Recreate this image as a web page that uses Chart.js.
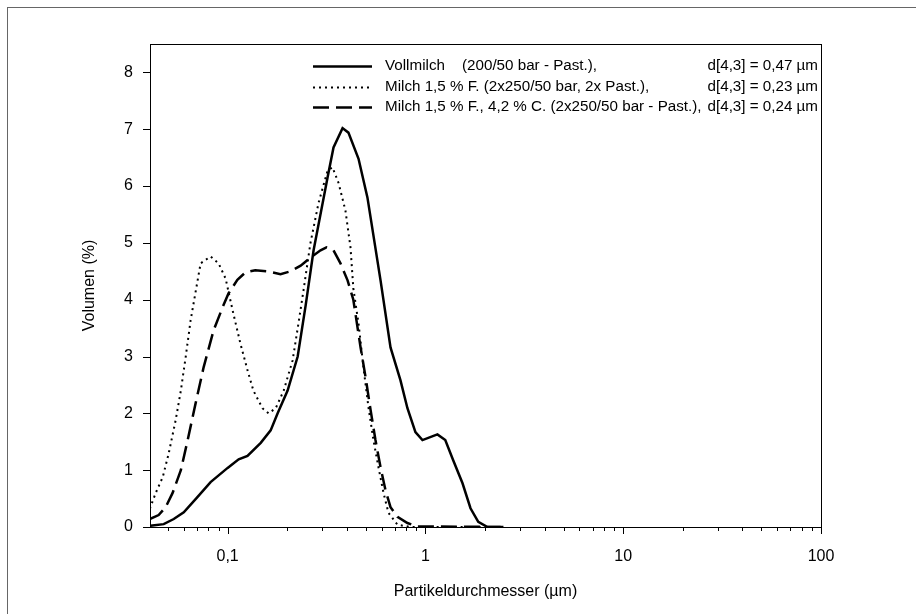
<!DOCTYPE html>
<html>
<head>
<meta charset="utf-8">
<script src="https://cdn.jsdelivr.net/npm/chart.js@4.4.1/dist/chart.umd.min.js"></script>
<style>
  html, body { margin: 0; padding: 0; background: #fff; }
  #wrap { width: 916px; height: 614px; }
</style>
</head>
<body>
<div id="wrap"><canvas id="chart" width="916" height="614"></canvas></div>
<script>
// Vollmilch (durchgezogen)
const vollX = [0.0404, 0.0475, 0.0534, 0.060, 0.0705, 0.082, 0.1, 0.1137, 0.126, 0.147, 0.165, 0.179, 0.201, 0.226, 0.248, 0.272, 0.320, 0.343, 0.381, 0.408, 0.459, 0.509, 0.593, 0.666, 0.748, 0.811, 0.890, 0.966, 1.15, 1.26, 1.38, 1.54, 1.69, 1.85, 2.06, 2.48];
const vollY = [0.02, 0.05, 0.14, 0.26, 0.53, 0.79, 1.04, 1.19, 1.25, 1.48, 1.70, 2.0, 2.4, 3.0, 3.9, 4.87, 6.15, 6.68, 7.02, 6.94, 6.48, 5.8, 4.34, 3.16, 2.58, 2.09, 1.67, 1.53, 1.63, 1.53, 1.18, 0.77, 0.33, 0.09, 0.0, 0.0];

// Milch 1,5 % F. (gepunktet)
const milchX = [0.0404, 0.0433, 0.047, 0.0504, 0.0546, 0.058, 0.0614, 0.065, 0.0705, 0.073, 0.082, 0.090, 0.0977, 0.106, 0.116, 0.126, 0.135, 0.150, 0.161, 0.175, 0.192, 0.213, 0.228, 0.242, 0.262, 0.288, 0.320, 0.339, 0.364, 0.394, 0.418, 0.432, 0.459, 0.486, 0.515, 0.546, 0.579, 0.614, 0.650, 0.722, 0.840, 2.0];
const milchY = [0.32, 0.6, 0.88, 1.3, 1.88, 2.4, 3.0, 3.64, 4.34, 4.64, 4.76, 4.64, 4.37, 3.81, 3.23, 2.76, 2.4, 2.09, 2.0, 2.09, 2.4, 2.93, 3.58, 4.17, 4.99, 5.7, 6.27, 6.33, 6.05, 5.57, 4.92, 4.2, 3.58, 2.81, 2.11, 1.53, 1.05, 0.6, 0.25, 0.04, 0.0, 0.0];

// Milch 1,5 % F., 4,2 % C. (gestrichelt)
const creamX = [0.0404, 0.0448, 0.0486, 0.0527, 0.058, 0.0628, 0.0689, 0.0756, 0.0849, 0.0944, 0.101, 0.112, 0.123, 0.138, 0.159, 0.185, 0.208, 0.234, 0.262, 0.295, 0.316, 0.343, 0.372, 0.404, 0.432, 0.470, 0.498, 0.528, 0.559, 0.593, 0.628, 0.666, 0.722, 0.811, 0.911, 2.4];
const creamY = [0.14, 0.21, 0.35, 0.6, 1.0, 1.53, 2.18, 2.81, 3.46, 3.87, 4.11, 4.35, 4.48, 4.52, 4.5, 4.45, 4.5, 4.6, 4.74, 4.87, 4.92, 4.87, 4.64, 4.34, 4.0, 3.16, 2.64, 2.06, 1.53, 1.05, 0.65, 0.35, 0.18, 0.07, 0.01, 0.0];

// Legende: Name, Bedingungen, d[4,3]
const legendNames = ['Vollmilch', 'Milch 1,5 % F. (2x250/50 bar, 2x Past.),', 'Milch 1,5 % F., 4,2 % C. (2x250/50 bar - Past.),'];
const legendCond = ['(200/50 bar - Past.),', '', ''];
const legendD43 = ['d[4,3] = 0,47 µm', 'd[4,3] = 0,23 µm', 'd[4,3] = 0,24 µm'];

// Achsen
const xMajorTicks = [0.1, 1, 10, 100];
const xTickLabels = ['0,1', '1', '10', '100'];
const xMinorTicks = [0.05, 0.06, 0.07, 0.08, 0.09, 0.2, 0.3, 0.4, 0.5, 0.6, 0.7, 0.8, 0.9, 2, 3, 4, 5, 6, 7, 8, 9, 20, 30, 40, 50, 60, 70, 80, 90];
const yTicks = [0, 1, 2, 3, 4, 5, 6, 7, 8];

const FONT = "'Liberation Sans', Arial, sans-serif";
Chart.defaults.font.family = FONT;
Chart.defaults.color = '#000';

const dashes = [[], [2, 4], [16, 7]];
const widths = [2.5, 2, 2.5];

function toPoints(xs, ys) {
    return xs.map((x, i) => ({ x: x, y: ys[i] }));
}

// Rahmen, Achsenmarken und Legende selbst zeichnen
const framePlugin = {
    id: 'frame',
    beforeDraw(chart) {
        const ctx = chart.ctx;
        ctx.save();
        ctx.strokeStyle = '#666';
        ctx.lineWidth = 1;
        ctx.strokeRect(7.5, 7.5, 1000, 1000);
        ctx.restore();
    },
    afterDraw(chart) {
        const ctx = chart.ctx;
        const a = chart.chartArea;
        const xs = chart.scales.x;
        const ys = chart.scales.y;
        ctx.save();
        ctx.strokeStyle = '#000';
        ctx.lineWidth = 1;
        ctx.strokeRect(Math.round(a.left) + 0.5, Math.round(a.top) + 0.5, Math.round(a.right - a.left), Math.round(a.bottom - a.top));

        ctx.beginPath();
        yTicks.forEach(v => {
            const py = Math.round(ys.getPixelForValue(v)) + 0.5;
            ctx.moveTo(a.left - 7, py);
            ctx.lineTo(a.left, py);
        });
        xMajorTicks.forEach(v => {
            const px = Math.round(xs.getPixelForValue(v)) + 0.5;
            ctx.moveTo(px, a.bottom);
            ctx.lineTo(px, a.bottom + 7);
        });
        xMinorTicks.forEach(v => {
            const px = Math.round(xs.getPixelForValue(v)) + 0.5;
            ctx.moveTo(px, a.bottom);
            ctx.lineTo(px, a.bottom + 4);
        });
        ctx.stroke();

        // Legende
        ctx.font = '15.2px ' + FONT;
        ctx.fillStyle = '#000';
        ctx.textBaseline = 'middle';
        const rowY = [66, 87, 107];
        legendNames.forEach((name, i) => {
            const y = rowY[i] + 0.5;
            ctx.beginPath();
            ctx.setLineDash(dashes[i]);
            ctx.lineWidth = widths[i];
            ctx.moveTo(313, y);
            ctx.lineTo(372, y);
            ctx.stroke();
            ctx.setLineDash([]);
            ctx.textAlign = 'left';
            ctx.fillText(name, 385, rowY[i]);
            if (legendCond[i]) ctx.fillText(legendCond[i], 462, rowY[i]);
            ctx.textAlign = 'right';
            ctx.fillText(legendD43[i], a.right - 3, rowY[i]);
        });
        ctx.restore();
    }
};

new Chart(document.getElementById('chart'), {
    type: 'scatter',
    data: {
        datasets: [
            { label: legendNames[0], data: toPoints(vollX, vollY) },
            { label: legendNames[1], data: toPoints(milchX, milchY) },
            { label: legendNames[2], data: toPoints(creamX, creamY) }
        ].map((ds, i) => Object.assign(ds, {
            showLine: true,
            borderColor: '#000',
            backgroundColor: '#000',
            borderWidth: widths[i],
            borderDash: dashes[i],
            pointRadius: 0,
            tension: 0
        }))
    },
    options: {
        responsive: false,
        animation: false,
        layout: { padding: { left: 0, top: 44, right: 95, bottom: 0 } },
        plugins: { legend: { display: false }, tooltip: { enabled: false } },
        scales: {
            x: {
                type: 'logarithmic',
                min: 0.0405,
                max: 100,
                grid: { display: false, drawTicks: false },
                border: { display: false },
                afterBuildTicks: scale => {
                    scale.ticks = xMajorTicks.map(v => ({ value: v }));
                },
                afterFit: scale => { scale.height = 87; },
                ticks: {
                    autoSkip: false,
                    maxRotation: 0,
                    padding: 20,
                    font: { size: 16 },
                    callback: value => {
                        const i = xMajorTicks.indexOf(value);
                        return i >= 0 ? xTickLabels[i] : '';
                    }
                },
                title: {
                    display: true,
                    text: 'Partikeldurchmesser (µm)',
                    font: { size: 16 },
                    padding: { bottom: 13 }
                }
            },
            y: {
                min: 0,
                max: 8.5,
                grid: { display: false, drawTicks: false },
                border: { display: false },
                afterBuildTicks: scale => {
                    scale.ticks = yTicks.map(v => ({ value: v }));
                },
                afterFit: scale => { scale.width = 150; },
                ticks: {
                    padding: 17,
                    font: { size: 16 }
                },
                title: {
                    display: true,
                    text: 'Volumen (%)',
                    font: { size: 16 },
                    padding: { top: 80 }
                }
            }
        }
    },
    plugins: [framePlugin]
});
</script>
</body>
</html>
